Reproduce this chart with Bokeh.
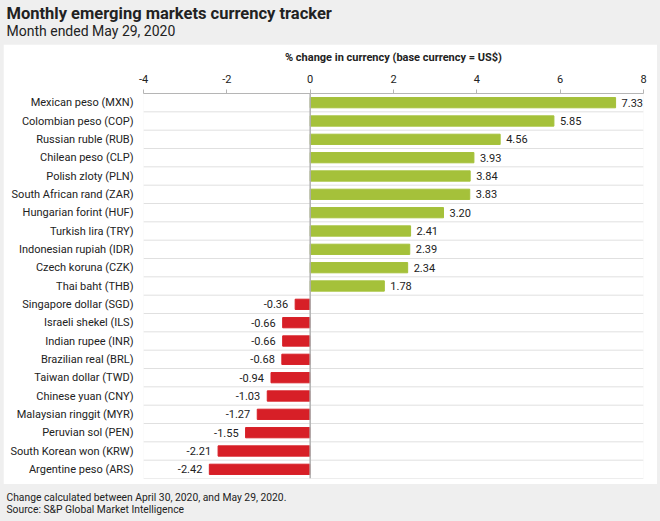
from bokeh.plotting import figure
from bokeh.layouts import column
from bokeh.models import (ColumnDataSource, FactorRange, Range1d, FixedTicker,
                          LabelSet, Span, Title)
from bokeh.core.properties import value
from bokeh.embed import file_html
from bokeh.resources import INLINE

currencies = ["Mexican peso (MXN)", "Colombian peso (COP)", "Russian ruble (RUB)",
              "Chilean peso (CLP)", "Polish zloty (PLN)", "South African rand (ZAR)",
              "Hungarian forint (HUF)", "Turkish lira (TRY)", "Indonesian rupiah (IDR)",
              "Czech koruna (CZK)", "Thai baht (THB)", "Singapore dollar (SGD)",
              "Israeli shekel (ILS)", "Indian rupee (INR)", "Brazilian real (BRL)",
              "Taiwan dollar (TWD)", "Chinese yuan (CNY)", "Malaysian ringgit (MYR)",
              "Peruvian sol (PEN)", "South Korean won (KRW)", "Argentine peso (ARS)"]
pct_change = [7.33, 5.85, 4.56, 3.93, 3.84, 3.83, 3.20, 2.41, 2.39, 2.34, 1.78,
              -0.36, -0.66, -0.66, -0.68, -0.94, -1.03, -1.27, -1.55, -2.21, -2.42]
x_ticks = [-4, -2, 0, 2, 4, 6, 8]

title = "Monthly emerging markets currency tracker"
subtitle = "Month ended May 29, 2020"
axis_title = "% change in currency (base currency = US$)"
note = "Change calculated between April 30, 2020, and May 29, 2020."
source_note = "Source: S&P Global Market Intelligence"

GREEN = "#a5c13a"
RED = "#d71f27"
BG = "#efefef"
FONT = "Roboto"
TXT = "#222222"

# borders shared by every figure in the column (the layout keeps them aligned)
BORDER_L = 140
BORDER_R = 14


def text_strip(height, side, lines):
    """A gray full-width strip whose text lines sit in its side panel."""
    f = figure(width=660, height=height, output_backend="svg", toolbar_location=None,
               x_range=Range1d(0, 1), y_range=Range1d(0, 1),
               min_border_left=BORDER_L, min_border_right=BORDER_R,
               min_border_top=0, min_border_bottom=0)
    f.axis.visible = False
    f.grid.visible = False
    f.outline_line_color = None
    f.background_fill_color = BG
    f.border_fill_color = BG
    for txt, size, style, standoff in lines:
        f.add_layout(Title(text=txt, align="left", offset=6 - BORDER_L,
                           text_font=FONT, text_font_size=size,
                           text_font_style=style, text_color=TXT,
                           standoff=standoff), side)
    return f


# the line nearest the frame comes first
header = text_strip(44, "above", [(subtitle, "14px", "normal", -8),
                                  (title, "16.5px", "bold", 3)])
footer = text_strip(37, "below", [(note, "10.3px", "normal", -18),
                                  (source_note, "10.3px", "normal", 12)])

src_pos = ColumnDataSource(dict(
    name=[c for c, v in zip(currencies, pct_change) if v >= 0],
    value=[v for v in pct_change if v >= 0],
    label=[f"{v:.2f}" for v in pct_change if v >= 0]))
src_neg = ColumnDataSource(dict(
    name=[c for c, v in zip(currencies, pct_change) if v < 0],
    value=[v for v in pct_change if v < 0],
    label=[f"{v:.2f}" for v in pct_change if v < 0]))

p = figure(width=654, height=440, output_backend="svg", toolbar_location=None,
           y_range=FactorRange(*reversed(currencies)), x_range=Range1d(-4, 8),
           x_axis_location="above",
           min_border_left=BORDER_L, min_border_right=BORDER_R,
           min_border_top=49, min_border_bottom=6, margin=(0, 3, 0, 3))
p.border_fill_color = "white"
p.background_fill_color = "white"
p.outline_line_color = None
p.grid.visible = False

# row separators
for c in currencies:
    p.segment(x0=-4, x1=8, y0=[(c, -0.5)], y1=[(c, -0.5)],
              line_color="#e0e0e0", line_width=1)

p.hbar(y="name", right="value", left=0, height=0.56, color=GREEN, source=src_pos)
p.hbar(y="name", right="value", left=0, height=0.56, color=RED, source=src_neg)

p.add_layout(Span(location=0, dimension="height", line_color="#b0b0b0", line_width=1.5))

p.add_layout(LabelSet(x="value", y="name", text="label", source=src_pos,
                      x_offset=6, text_baseline="middle", text_align="left",
                      text_font=value(FONT), text_font_size="11px", text_color=TXT))
p.add_layout(LabelSet(x="value", y="name", text="label", source=src_neg,
                      x_offset=-7, text_baseline="middle", text_align="right",
                      text_font=value(FONT), text_font_size="11px", text_color=TXT))

xa = p.xaxis[0]
xa.ticker = FixedTicker(ticks=x_ticks)
xa.major_label_overrides = {float(t): str(t) for t in x_ticks}
xa.minor_tick_line_color = None
xa.major_tick_in = 0
xa.major_tick_out = 4
xa.axis_line_color = "#b5b5b5"
xa.major_tick_line_color = "#b5b5b5"
xa.major_label_text_font = FONT
xa.major_label_text_font_size = "11px"
xa.major_label_text_color = TXT
xa.major_label_standoff = 7
xa.axis_label = axis_title
xa.axis_label_text_font = FONT
xa.axis_label_text_font_size = "11px"
xa.axis_label_text_font_style = "bold"
xa.axis_label_text_color = TXT
xa.axis_label_standoff = 8

ya = p.yaxis[0]
ya.axis_line_color = None
ya.major_tick_line_color = None
ya.major_tick_out = 0
ya.major_label_standoff = 10
ya.major_label_text_font = FONT
ya.major_label_text_font_size = "11px"
ya.major_label_text_color = TXT

layout = column(header, p, footer, spacing=0, styles={"background-color": BG})

open("out.html", "w").write(file_html(layout, INLINE))
